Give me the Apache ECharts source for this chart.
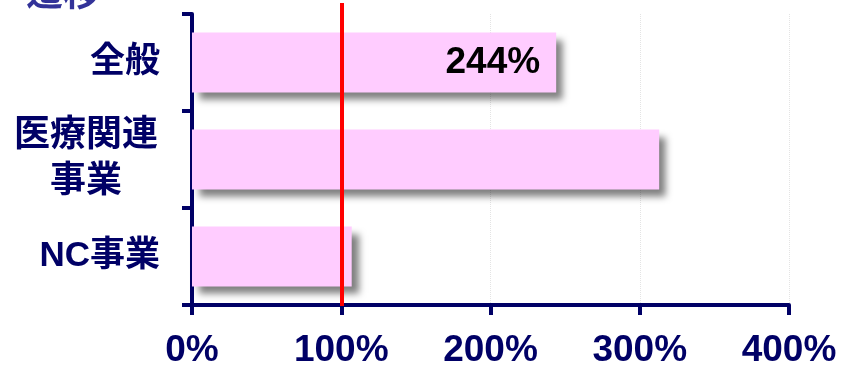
<!DOCTYPE html>
<html>
<head>
<meta charset="utf-8">
<style>
  html, body { margin: 0; padding: 0; background: #ffffff; }
  #chart { width: 841px; height: 369px; }
</style>
<script src="https://cdn.jsdelivr.net/npm/echarts@6/dist/echarts.min.js"></script>
</head>
<body>
<div id="chart"></div>
<script>
// Growth ratio by business segment (baseline = 100%)
const categories = ['全般', '医療関連\n事業', 'NC事業'];
const ratios = [244, 313, 107];
const labelledIndex = 0;          // only the first bar carries its value
const baseline = 100;
const xTicks = [0, 100, 200, 300, 400];
const titleText = '遷移';

const NAVY = '#000066';
const FONT = "'Liberation Sans', Arial, 'Noto Sans CJK JP', sans-serif";

const chart = echarts.init(document.getElementById('chart'), null, { renderer: 'canvas' });

chart.setOption({
  animation: false,
  backgroundColor: '#ffffff',
  graphic: [{
    type: 'text',
    left: 26,
    top: -23,
    style: {
      text: titleText,
      fill: '#333399',
      font: 'bold 37px ' + FONT
    }
  }],
  grid: { left: 192, right: 52, top: 14, bottom: 63, containLabel: false },
  xAxis: {
    type: 'value',
    min: xTicks[0],
    max: xTicks[xTicks.length - 1],
    interval: xTicks[1] - xTicks[0],
    axisLine: { show: true, lineStyle: { color: NAVY, width: 4 } },
    axisTick: { show: true, length: 10, lineStyle: { color: NAVY, width: 4 } },
    splitLine: { show: true, lineStyle: { color: '#e4e4e4', width: 1, type: 'dotted' } },
    axisLabel: {
      formatter: '{value}%',
      color: NAVY,
      fontWeight: 'bold',
      fontSize: 37,
      fontFamily: FONT,
      margin: 27
    }
  },
  yAxis: {
    type: 'category',
    inverse: true,
    data: categories,
    axisLine: { show: true, lineStyle: { color: NAVY, width: 4 } },
    axisTick: { show: true, length: 10, alignWithLabel: false, lineStyle: { color: NAVY, width: 4 } },
    splitLine: { show: false },
    axisLabel: {
      margin: 32,
      color: NAVY,
      fontWeight: 'bold',
      fontSize: 35,
      fontFamily: FONT,
      lineHeight: 46,
      formatter: function (v) {
        if (v.indexOf('\n') >= 0) {
          return v.split('\n').map(function (s) { return '{c|' + s + '}'; }).join('\n');
        }
        return v;
      },
      rich: {
        c: {
          width: 148,
          align: 'center',
          color: NAVY,
          fontWeight: 'bold',
          fontSize: 36,
          fontFamily: FONT,
          lineHeight: 46
        }
      }
    }
  },
  series: [{
    type: 'bar',
    data: ratios.map(function (v, i) {
      return {
        value: v,
        label: {
          show: i === labelledIndex,
          position: 'insideRight',
          distance: 16,
          formatter: '{c}%',
          color: '#000000',
          fontWeight: 'bold',
          fontSize: 37,
          fontFamily: FONT
        }
      };
    }),
    barWidth: 60,
    itemStyle: {
      color: '#ffccff',
      shadowColor: 'rgba(0,0,0,0.5)',
      shadowBlur: 7,
      shadowOffsetX: 7,
      shadowOffsetY: 7
    },
    markLine: {
      silent: true,
      symbol: 'none',
      animation: false,
      label: { show: false },
      lineStyle: { color: '#ff0000', width: 4, type: 'solid' },
      data: [[{ xAxis: baseline, y: 3 }, { xAxis: baseline, y: 306 }]]
    },
    z: 2
  }]
});
</script>
</body>
</html>
